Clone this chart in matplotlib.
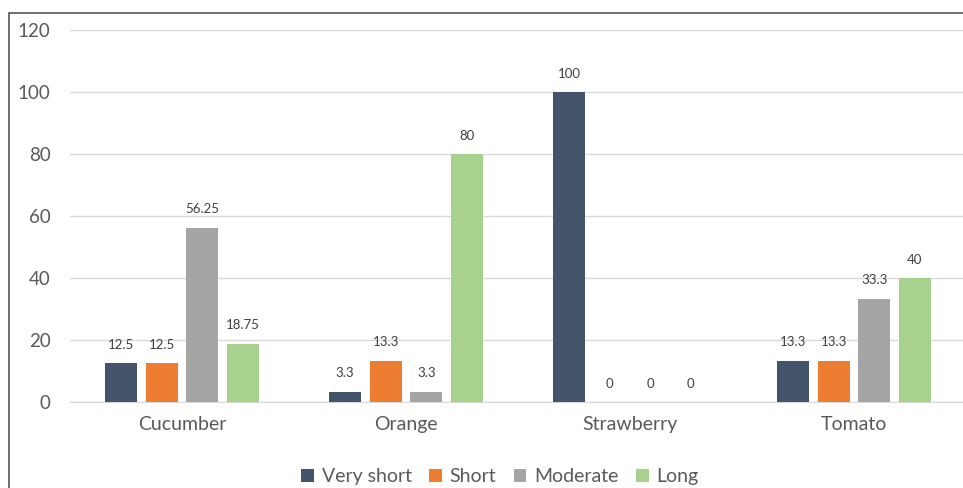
import matplotlib.pyplot as plt
import numpy as np
from matplotlib.patches import Rectangle

plt.rcParams['font.family'] = ['Lato', 'DejaVu Sans']

categories = ['Cucumber', 'Orange', 'Strawberry', 'Tomato']
series_names = ['Very short', 'Short', 'Moderate', 'Long']
very_short = [12.5, 3.3, 100, 13.3]
short = [12.5, 13.3, 0, 13.3]
moderate = [56.25, 3.3, 0, 33.3]
long_ = [18.75, 80, 0, 40]
labels = [
    ['12.5', '3.3', '100', '13.3'],
    ['12.5', '13.3', '0', '13.3'],
    ['56.25', '3.3', '0', '33.3'],
    ['18.75', '80', '0', '40'],
]
colors = ['#44546A', '#ED7D31', '#A5A5A5', '#A9D18E']

fig = plt.figure(figsize=(9.63, 4.88), dpi=100)
ax = fig.add_axes([70 / 963, 1 - 402 / 488, 896 / 963, 372 / 488])

x = np.arange(len(categories))
width = 0.143
step = 0.181
for i, vals in enumerate([very_short, short, moderate, long_]):
    pos = x + (i - 1.5) * step
    bars = ax.bar(pos, vals, width, color=colors[i], label=series_names[i], zorder=3)
    for b, lab in zip(bars, labels[i]):
        ax.text(b.get_x() + b.get_width() / 2, b.get_height() + 4, lab,
                ha='center', va='bottom', fontsize=9.5, color='#404040')

ax.set_xlim(-0.5, len(categories) - 0.5)
ax.set_ylim(0, 120)
ax.set_yticks(range(0, 121, 20))
ax.set_xticks(x)
ax.set_xticklabels(categories)
ax.tick_params(axis='x', length=0, pad=10, labelsize=14, labelcolor='#595959')
ax.tick_params(axis='y', length=0, pad=14, labelsize=13.5, labelcolor='#595959')
ax.grid(axis='y', color='#D9D9D9', linewidth=1, zorder=0)
for s in ['top', 'right', 'left']:
    ax.spines[s].set_visible(False)
ax.spines['bottom'].set_color('#D9D9D9')

ax.legend(loc='center', bbox_to_anchor=(430 / 896, -0.2), ncol=4, frameon=False,
          fontsize=14, labelcolor='#595959', handlelength=0.65, handleheight=0.65,
          handletextpad=0.4, columnspacing=0.9)

fig.patches.append(Rectangle((9 / 963, -0.1), 1.2, 1 - 13 / 488 + 0.1,
                             transform=fig.transFigure, fill=False,
                             edgecolor='#555555', linewidth=1.2))

fig.savefig('out.png', dpi=100)
